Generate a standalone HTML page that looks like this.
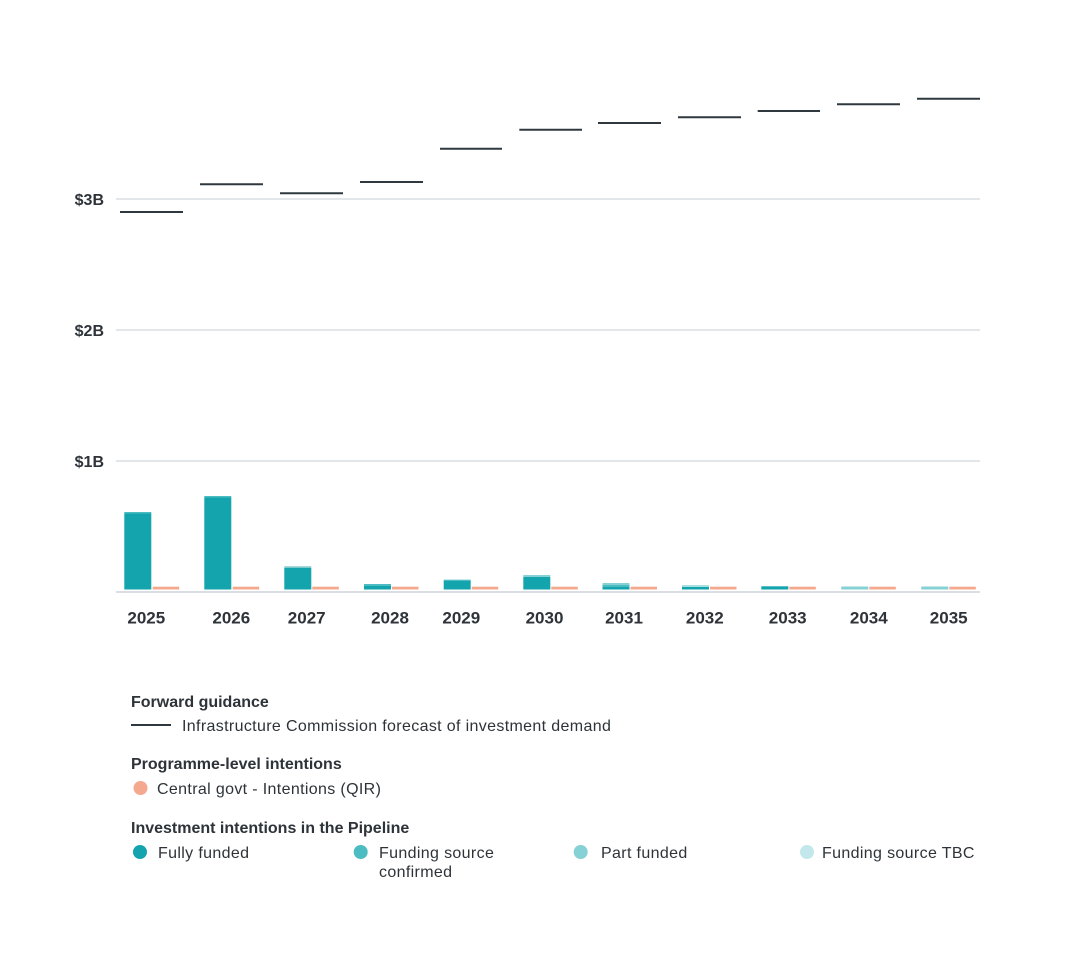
<!DOCTYPE html>
<html>
<head>
<meta charset="utf-8">
<style>
  html, body { margin: 0; padding: 0; background: #ffffff; }
  body { width: 1085px; height: 967px; overflow: hidden; }
  svg { display: block; }
  text { font-family: "Liberation Sans", Arial, sans-serif; fill: #2d3338; }
  .yl { font-size: 16px; font-weight: bold; }
  .xl { font-size: 17px; font-weight: bold; }
  .lh { font-size: 16px; font-weight: bold; }
  .lt { font-size: 16px; letter-spacing: 0.35px; }
</style>
</head>
<body>
<svg width="1085" height="967" viewBox="0 0 1085 967" xmlns="http://www.w3.org/2000/svg">
  <!-- gridlines -->
  <g stroke="#dcdfe3" stroke-width="1.5">
    <line x1="116" y1="199" x2="980" y2="199"/>
    <line x1="116" y1="330" x2="980" y2="330"/>
    <line x1="116" y1="461" x2="980" y2="461"/>
  </g>
  <line x1="116" y1="592" x2="980" y2="592" stroke="#cdd2d7" stroke-width="1.5"/>

  <!-- y labels -->
  <text class="yl" x="104" y="205" text-anchor="end">$3B</text>
  <text class="yl" x="104" y="336" text-anchor="end">$2B</text>
  <text class="yl" x="104" y="467" text-anchor="end">$1B</text>

  <!-- bars -->
  <g>
    <rect x="124.3" y="513.5" width="27" height="76" fill="#14a4ad"/>
    <rect x="124.3" y="512" width="27" height="1.5" fill="#4bbcc2"/>
    <rect x="204.3" y="497.5" width="27" height="92" fill="#14a4ad"/>
    <rect x="204.3" y="496" width="27" height="1.5" fill="#4bbcc2"/>
    <rect x="284.3" y="568" width="27" height="21.5" fill="#14a4ad"/>
    <rect x="284.3" y="566.3" width="27" height="1.7" fill="#7fc9cc"/>
    <rect x="364" y="586" width="27" height="3.5" fill="#14a4ad"/>
    <rect x="364" y="584" width="27" height="2" fill="#4bbcc2"/>
    <rect x="443.7" y="581" width="27" height="8.5" fill="#14a4ad"/>
    <rect x="443.7" y="579.7" width="27" height="1.3" fill="#4bbcc2"/>
    <rect x="523.3" y="577" width="27" height="12.5" fill="#14a4ad"/>
    <rect x="523.3" y="575" width="27" height="2" fill="#85d1d6"/>
    <rect x="602.5" y="587" width="27" height="2.5" fill="#14a4ad"/>
    <rect x="602.5" y="585" width="27" height="2" fill="#4bbcc2"/>
    <rect x="602.5" y="583" width="27" height="2" fill="#85d1d6"/>
    <rect x="682" y="587" width="27" height="2.5" fill="#14a4ad"/>
    <rect x="682" y="585" width="27" height="2" fill="#a8dfe2"/>
    <rect x="761.3" y="586.3" width="27" height="3.2" fill="#14a4ad"/>
    <rect x="841.3" y="586.5" width="27" height="3" fill="#85d1d6"/>
    <rect x="921.3" y="586.5" width="27" height="3" fill="#85d1d6"/>
  </g>
  <!-- salmon -->
  <g fill="#f4a98f">
    <rect x="152.7" y="586.7" width="26.5" height="2.8"/>
    <rect x="232.7" y="586.7" width="26.5" height="2.8"/>
    <rect x="312.3" y="586.7" width="26.5" height="2.8"/>
    <rect x="392" y="586.7" width="26.5" height="2.8"/>
    <rect x="471.7" y="586.7" width="26.5" height="2.8"/>
    <rect x="551.3" y="586.7" width="26.5" height="2.8"/>
    <rect x="630.5" y="586.7" width="26.5" height="2.8"/>
    <rect x="710" y="586.7" width="26.5" height="2.8"/>
    <rect x="789.3" y="586.7" width="26.5" height="2.8"/>
    <rect x="869.3" y="586.7" width="26.5" height="2.8"/>
    <rect x="949.3" y="586.7" width="26.5" height="2.8"/>
  </g>

  <!-- forecast lines -->
  <g stroke="#2f383e" stroke-width="2">
    <line x1="120" y1="212" x2="183" y2="212"/>
    <line x1="200" y1="184.3" x2="263" y2="184.3"/>
    <line x1="280" y1="193.3" x2="343" y2="193.3"/>
    <line x1="360" y1="182" x2="423" y2="182"/>
    <line x1="440" y1="148.7" x2="502" y2="148.7"/>
    <line x1="519.3" y1="129.7" x2="582" y2="129.7"/>
    <line x1="598" y1="123" x2="661" y2="123"/>
    <line x1="678" y1="117.3" x2="741" y2="117.3"/>
    <line x1="757.7" y1="111" x2="820" y2="111"/>
    <line x1="837" y1="104.3" x2="900" y2="104.3"/>
    <line x1="917" y1="98.7" x2="980" y2="98.7"/>
  </g>

  <!-- x labels -->
  <g text-anchor="middle">
    <text class="xl" x="146.3" y="623.5">2025</text>
    <text class="xl" x="231.3" y="623.5">2026</text>
    <text class="xl" x="306.7" y="623.5">2027</text>
    <text class="xl" x="390" y="623.5">2028</text>
    <text class="xl" x="461.3" y="623.5">2029</text>
    <text class="xl" x="544.5" y="623.5">2030</text>
    <text class="xl" x="624" y="623.5">2031</text>
    <text class="xl" x="704.8" y="623.5">2032</text>
    <text class="xl" x="787.7" y="623.5">2033</text>
    <text class="xl" x="868.8" y="623.5">2034</text>
    <text class="xl" x="948.7" y="623.5">2035</text>
  </g>

  <!-- legend -->
  <text class="lh" x="131" y="707">Forward guidance</text>
  <line x1="131" y1="725" x2="171" y2="725" stroke="#2f383e" stroke-width="2"/>
  <text class="lt" x="182" y="731">Infrastructure Commission forecast of investment demand</text>

  <text class="lh" x="131" y="769">Programme-level intentions</text>
  <circle cx="140.5" cy="788" r="7" fill="#f4a98f"/>
  <text class="lt" x="157" y="794">Central govt - Intentions (QIR)</text>

  <text class="lh" x="131" y="833">Investment intentions in the Pipeline</text>
  <circle cx="140" cy="852" r="7" fill="#14a4ad"/>
  <text class="lt" x="158" y="858">Fully funded</text>
  <circle cx="360.7" cy="852" r="7" fill="#4bbcc2"/>
  <text class="lt" x="379" y="858">Funding source</text>
  <text class="lt" x="379" y="877">confirmed</text>
  <circle cx="580.7" cy="852" r="7" fill="#85d1d6"/>
  <text class="lt" x="601" y="858">Part funded</text>
  <circle cx="807" cy="852" r="7" fill="#c2e8eb"/>
  <text class="lt" x="822" y="858">Funding source TBC</text>
</svg>
</body>
</html>
